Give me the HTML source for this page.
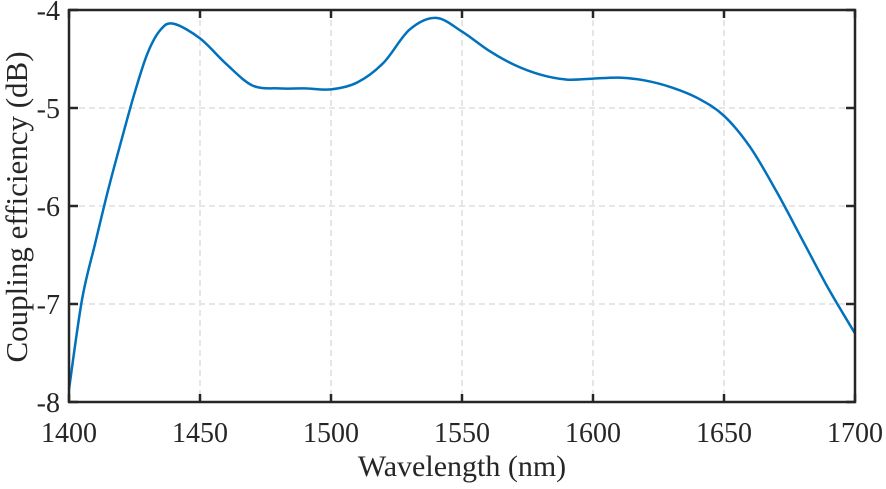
<!DOCTYPE html>
<html><head><meta charset="utf-8"><style>
body{margin:0;background:#fff;}
svg text{font-family:"Liberation Serif",serif;fill:#262626;}
</style></head><body>
<svg width="886" height="484" xmlns="http://www.w3.org/2000/svg">
<g id="grid"></g>
<path id="line" fill="none" stroke="#0072BD" stroke-width="2.5"/>
<rect x="69" y="10" width="786" height="392" fill="none" stroke="#262626" stroke-width="2.5"/>
<g id="ticks"></g>
<text x="462" y="476" font-size="30" text-anchor="middle">Wavelength (nm)</text>
<text transform="translate(27,207) rotate(-90)" font-size="31" text-anchor="middle">Coupling efficiency (dB)</text>
</svg>
<script>
const wavelengths=[1400,1405,1410,1415,1420,1425,1430,1435,1440,1450,1460,1470,1480,1490,1500,1510,1520,1530,1540,1550,1560,1570,1580,1590,1600,1610,1620,1630,1640,1650,1660,1670,1680,1690,1700];
const efficiency=[-7.87,-6.95,-6.38,-5.83,-5.33,-4.85,-4.44,-4.2,-4.14,-4.29,-4.55,-4.77,-4.8,-4.8,-4.81,-4.74,-4.54,-4.2,-4.08,-4.22,-4.41,-4.56,-4.66,-4.71,-4.7,-4.69,-4.72,-4.79,-4.9,-5.08,-5.4,-5.85,-6.35,-6.85,-7.3];
const xTicks=[1400,1450,1500,1550,1600,1650,1700];
const yTicks=[-4,-5,-6,-7,-8];
const X=v=>69+(v-1400)/300*786, Y=v=>10+(-4-v)/4*392;
const ns="http://www.w3.org/2000/svg";
const grid=document.getElementById('grid'), ticks=document.getElementById('ticks'), svg=document.querySelector('svg');
function mk(tag,attrs,parent){const e=document.createElementNS(ns,tag);for(const k in attrs)e.setAttribute(k,attrs[k]);parent.appendChild(e);return e;}
xTicks.forEach(t=>{const x=X(t);
 const g=mk('line',{x1:x,x2:x,y1:10,y2:402,stroke:'#e6e6e6','stroke-width':2,'stroke-dasharray':'6,4'},grid);
 
 
 const tk=mk('line',{x1:x,x2:x,y1:402,y2:394,stroke:'#262626','stroke-width':2.5},ticks);
 
 
 const tk2=mk('line',{x1:x,x2:x,y1:10,y2:18,stroke:'#262626','stroke-width':2.5},ticks);
 
 
 const l=mk('text',{x:x,y:442,'font-size':28,'text-anchor':'middle'},svg);l.textContent=t;
 
 
});
yTicks.forEach(t=>{const y=Y(t);
 const g=mk('line',{x1:69,x2:855,y1:y,y2:y,stroke:'#e6e6e6','stroke-width':2,'stroke-dasharray':'6,4'},grid);
 
 
 const tk=mk('line',{x1:69,x2:78,y1:y,y2:y,stroke:'#262626','stroke-width':2.5},ticks);
 
 
 const tk2=mk('line',{x1:855,x2:846,y1:y,y2:y,stroke:'#262626','stroke-width':2.5},ticks);
 
 
 const l=mk('text',{x:60,y:y+10,'font-size':28,'text-anchor':'end'},svg);l.textContent=t;
 
 
});
const P=wavelengths.map((w,i)=>[X(w),Y(efficiency[i])]);
let d='M'+P[0][0]+','+P[0][1];
for(let i=0;i<P.length-1;i++){const p0=P[Math.max(i-1,0)],p1=P[i],p2=P[i+1],p3=P[Math.min(i+2,P.length-1)];
 d+=' C'+(p1[0]+(p2[0]-p0[0])/6)+','+(p1[1]+(p2[1]-p0[1])/6)+' '+(p2[0]-(p3[0]-p1[0])/6)+','+(p2[1]-(p3[1]-p1[1])/6)+' '+p2[0]+','+p2[1];}
document.getElementById('line').setAttribute('d',d);
</script>
</body></html>
